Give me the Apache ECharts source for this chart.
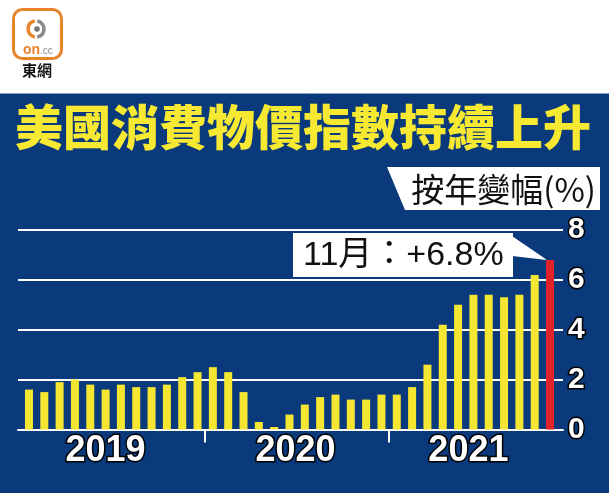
<!DOCTYPE html>
<html><head><meta charset="utf-8">
<script src="https://cdn.jsdelivr.net/npm/echarts@6/dist/echarts.min.js"></script>
<style>html,body{margin:0;padding:0;background:#fff}#c{width:609px;height:493px}</style>
</head><body><div id="c"></div>
<script>
const months = [
 '2019-01','2019-02','2019-03','2019-04','2019-05','2019-06','2019-07','2019-08','2019-09','2019-10','2019-11','2019-12',
 '2020-01','2020-02','2020-03','2020-04','2020-05','2020-06','2020-07','2020-08','2020-09','2020-10','2020-11','2020-12',
 '2021-01','2021-02','2021-03','2021-04','2021-05','2021-06','2021-07','2021-08','2021-09','2021-10','2021-11'];
const cpi2019 = [1.6,1.5,1.9,2.0,1.8,1.6,1.8,1.7,1.7,1.8,2.1,2.3];
const cpi2020 = [2.5,2.3,1.5,0.3,0.1,0.6,1.0,1.3,1.4,1.2,1.2,1.4];
const cpi2021 = [1.4,1.7,2.6,4.2,5.0,5.4,5.4,5.3,5.4,6.2,6.8];
const yearLabels = ['2019','2020','2021'];
const yearLabelIdx = [5,17,29];
const yearBoundaries = [11.5,23.5];
const yTicks = [0,2,4,6,8];
const titleText = '美國消費物價指數持續上升';
const unitText = '按年變幅(%)';
const calloutText = '11月：+6.8%';

const values = cpi2019.concat(cpi2020, cpi2021);
const NAVY = '#0a3a7c', YEL = '#f5e632', RED = '#e3232c';
const lastIdx = values.length - 1;
const barData = values.map((v,i)=> i===lastIdx ? {value:v,itemStyle:{color:RED}} : v);

const numStyle = {color:'#fff', fontWeight:'bold', fontFamily:'Liberation Sans', textBorderColor:'#000', textBorderWidth:3};
const chart = echarts.init(document.getElementById('c'), null, {renderer:'canvas'});
const opt = {
  backgroundColor:'#fff',
  animation:false,
  grid:[
    {left:18, right:46, top:230, bottom:63.5},
    {left:21.3, right:51.3, top:230, bottom:63.5}
  ],
  xAxis:[
    {gridIndex:0, type:'value', min:0, max:1, axisLine:{show:true, lineStyle:{color:'#fff', width:2}},
     axisTick:{show:false}, axisLabel:{show:false}, splitLine:{show:false}},
    {gridIndex:1, type:'category', position:'bottom', data:months, axisLine:{show:false}, axisTick:{show:false},
     axisLabel:{interval:(i)=>yearLabelIdx.indexOf(i)>=0, margin:4,
       formatter:(v)=>{const y=v.slice(0,4); return '{'+(y==='2020'?'s':(y==='2021'?'t':'n'))+'|'+y+'}';},
       rich:{n:Object.assign({fontSize:36},numStyle),
             s:Object.assign({fontSize:36, padding:[0,0,0,12]},numStyle),
             t:Object.assign({fontSize:36, padding:[0,10,0,0]},numStyle)}}},
    {gridIndex:1, type:'value', position:'bottom', offset:0, min:-0.5, max:lastIdx+0.5, axisLine:{show:false},
     axisLabel:{show:false}, splitLine:{show:false},
     axisTick:{show:true, inside:false, length:13, lineStyle:{color:'#fff', width:2}, customValues:yearBoundaries}}
  ],
  yAxis:[
    {gridIndex:0, type:'value', position:'right', min:yTicks[0], max:yTicks[yTicks.length-1], interval:2,
     axisLine:{show:false}, axisTick:{show:false},
     splitLine:{show:true, lineStyle:{color:'#fff', width:2}},
     axisLabel:Object.assign({fontSize:30, margin:5}, numStyle)},
    {gridIndex:1, type:'value', min:yTicks[0], max:yTicks[yTicks.length-1], show:false}
  ],
  series:[{type:'bar', xAxisIndex:1, yAxisIndex:1, data:barData, barWidth:8, itemStyle:{color:YEL}, z:3}],
  graphic:[]
};
chart.setOption(opt);

const tip = chart.convertToPixel({xAxisIndex:1, yAxisIndex:1}, [lastIdx, values[lastIdx]]);
chart.setOption({graphic:[
  {type:'rect', z:-100, shape:{x:0,y:93,width:609,height:400}, style:{fill:NAVY}},
  {type:'line', z:-99, shape:{x1:0,y1:93.5,x2:609,y2:93.5}, style:{stroke:'#8ea3c4', lineWidth:1}},
  {type:'text', z:50, style:{text:titleText, x:15, y:127, textVerticalAlign:'middle', fill:'#f7e832',
    font:'900 48px "Noto Sans CJK TC"'}},
  {type:'polygon', z:50, shape:{points:[[387,167],[600,167],[600,210],[405,210]]}, style:{fill:'#fff'}},
  {type:'text', z:51, style:{text:unitText, x:596, y:189, textAlign:'right', textVerticalAlign:'middle', fill:'#111',
    font:'33px "Noto Sans CJK TC"'}},
  {type:'polygon', z:50, shape:{points:[[512,236],[512,256],[tip[0]-3,tip[1]]]}, style:{fill:'#fff'}},
  {type:'rect', z:50, shape:{x:293,y:233,width:220,height:44}, style:{fill:'#fff'}},
  {type:'text', z:51, style:{text:calloutText, x:303, y:256, textVerticalAlign:'middle', fill:'#111',
    font:'34px "Liberation Sans", "Noto Sans CJK TC"'}},
  // logo
  {type:'rect', z:50, shape:{x:13.5,y:9.5,width:48,height:49,r:9}, style:{fill:'#fff', stroke:'#e8842c', lineWidth:3}},
  {type:'arc', z:51, shape:{cx:36,cy:29,r:8,startAngle:Math.PI*0.55,endAngle:Math.PI*1.45}, style:{stroke:'#e8842c', lineWidth:3.5, fill:'none'}},
  {type:'arc', z:51, shape:{cx:36,cy:29,r:8,startAngle:-Math.PI*0.45,endAngle:Math.PI*0.45}, style:{stroke:'#8a8a8a', lineWidth:3.5, fill:'none'}},
  {type:'circle', z:51, shape:{cx:37,cy:29,r:2.8}, style:{fill:'#777'}},
  {type:'text', z:51, style:{text:'on', x:23, y:50, textVerticalAlign:'middle', fill:'#e8842c', font:'bold 14px "Liberation Sans"'}},
  {type:'text', z:51, style:{text:'.cc', x:40, y:51, textVerticalAlign:'middle', fill:'#8a8a8a', font:'10px "Liberation Sans"'}},
  {type:'text', z:51, style:{text:'東網', x:37, y:70, textAlign:'center', textVerticalAlign:'middle', fill:'#111', font:'bold 15px "Noto Sans CJK TC"'}}
]});
</script></body></html>
